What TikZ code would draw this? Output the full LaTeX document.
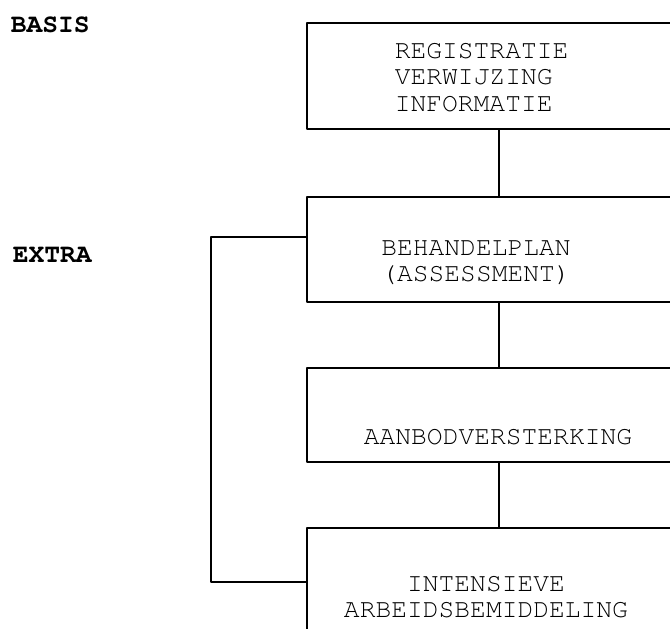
\documentclass[tikz,border=0pt]{standalone}
\usepackage[T1]{fontenc}
\usepackage{courier}
\begin{document}
\begin{tikzpicture}[x=1pt,y=-1pt,line width=1.6pt,line join=round,
	blok/.style={draw,rectangle,anchor=north west,minimum width=500pt,outer sep=0pt,inner sep=0pt},
	tekst/.style={font=\ttfamily\fontsize{26.3}{26.5}\selectfont,inner sep=0pt,align=center},
	kop/.style={font=\ttfamily\bfseries\fontsize{26.3}{26.5}\selectfont,inner sep=0pt,anchor=base west}]
		\useasboundingbox (0,0) rectangle (670,629);
		\node[kop] (basis) at (10,32) {BASIS};
		\node[kop] (extra) at (12,262) {EXTRA};
		\node[blok,minimum height=106pt] (registratie) at (307,23) {};
		\node[blok,minimum height=105pt] (behandelplan) at (307,197) {};
		\node[blok,minimum height=94pt] (aanbod) at (307,368) {};
		\node[blok,minimum height=200pt] (bemiddeling) at (307,528) {};
		\node[tekst,align=left,anchor=north west] (regtekst) at (394,42) {REGISTRATIE\\VERWIJZING\\INFORMATIE};
		\node[tekst,anchor=north] (plantekst) at (476,240) {BEHANDELPLAN\\(ASSESSMENT)};
		\node[tekst,anchor=north] (aanbodtekst) at (498,428) {AANBODVERSTERKING};
		\node[tekst,anchor=north] (bemtekst) at (486,575) {INTENSIEVE\\ARBEIDSBEMIDDELING};
		\coordinate (stam) at (499,0);
		\coordinate (rail) at (211,0);
		\coordinate (aftak) at ([yshift=-40pt]behandelplan.north west);
		\coordinate (aansluit) at ([yshift=-54pt]bemiddeling.north west);
		\draw (registratie.south -| stam) -- (behandelplan.north -| stam);
		\draw (behandelplan.south -| stam) -- (aanbod.north -| stam);
		\draw (aanbod.south -| stam) -- (bemiddeling.north -| stam);
		\draw (aftak) -- (aftak -| rail) |- (aansluit);
\end{tikzpicture}
\end{document}
